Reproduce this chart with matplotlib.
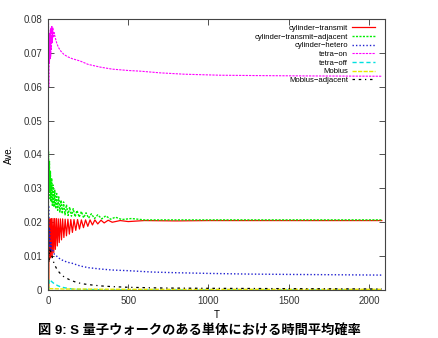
import matplotlib
matplotlib.use("Agg")
import matplotlib.pyplot as plt

plt.rcParams['font.family'] = ['Liberation Sans', 'Noto Sans CJK JP', 'DejaVu Sans']

# cylinder-transmit (red)
t_red = [5, 6, 9, 13, 17, 21, 26, 31, 36, 41, 46, 52, 58, 64, 70, 77, 84, 91, 99, 107,
         115, 124, 133, 142, 152, 162, 173, 184, 196, 208, 221, 234, 248, 262, 277, 292,
         310, 330, 350, 375, 400, 450, 500, 600, 800, 1000, 1500, 2080]
v_red = [0.0, 0.021, 0.009, 0.021, 0.0095, 0.0211, 0.010, 0.0211, 0.011, 0.0211, 0.012,
         0.0211, 0.013, 0.021, 0.014, 0.021, 0.0148, 0.021, 0.0155, 0.0209, 0.016, 0.0209,
         0.0165, 0.0208, 0.017, 0.0208, 0.0176, 0.0208, 0.018, 0.0207, 0.0184, 0.0207,
         0.0188, 0.0207, 0.0192, 0.0207, 0.0195, 0.0206, 0.0198, 0.0206, 0.020, 0.0205,
         0.0202, 0.0205, 0.0204, 0.0205, 0.0205, 0.0205]

# cylinder-transmit-adjacent (green)
t_green = [2, 3, 6, 9, 12, 15, 19, 23, 27, 32, 37, 42, 48, 54, 60, 67, 74, 81, 89, 97,
           106, 115, 125, 135, 146, 157, 169, 181, 194, 208, 222, 237, 253, 270, 290,
           310, 335, 360, 390, 420, 460, 520, 600, 800, 1000, 1500, 2080]
v_green = [0.0, 0.041, 0.029, 0.038, 0.027, 0.035, 0.026, 0.033, 0.025, 0.031, 0.0245,
           0.0295, 0.024, 0.0285, 0.0235, 0.0275, 0.023, 0.0265, 0.0225, 0.026, 0.0222,
           0.0252, 0.022, 0.0245, 0.0218, 0.024, 0.0216, 0.0235, 0.0215, 0.0232, 0.0213,
           0.0228, 0.0212, 0.0225, 0.0211, 0.0222, 0.021, 0.0219, 0.0209, 0.0215, 0.0208,
           0.0211, 0.0207, 0.0207, 0.0207, 0.0207, 0.0207]

# cylinder-hetero (blue)
t_blue = [0, 1, 2, 4, 6, 10, 14, 18, 22, 30, 40, 50, 60, 80, 100, 120, 150, 200, 250,
          325, 400, 500, 650, 800, 1000, 1250, 1500, 1800, 2080]
v_blue = [0.0, 0.03, 0.015, 0.025, 0.013, 0.018, 0.012, 0.014, 0.0115, 0.0118, 0.0105,
          0.0102, 0.0097, 0.009, 0.0086, 0.0082, 0.0079, 0.0071, 0.0066, 0.0062, 0.0059,
          0.0057, 0.0053, 0.0051, 0.0049, 0.0047, 0.0046, 0.0045, 0.0044]

# tetra-on (magenta)
t_mag = [0, 1, 2, 3, 5, 7, 9, 11, 13, 15, 17, 19, 21, 24, 27, 30, 34, 38, 45, 55, 65,
         80, 100, 125, 150, 200, 250, 325, 400, 500, 575, 700, 850, 1075, 1300, 1600, 2080]
v_mag = [0.0, 0.08, 0.001, 0.079, 0.06, 0.075, 0.067, 0.076, 0.068, 0.077, 0.069, 0.0775,
         0.071, 0.0778, 0.073, 0.0775, 0.0745, 0.076, 0.0745, 0.0728, 0.0716, 0.0705,
         0.0695, 0.0688, 0.0683, 0.0676, 0.0666, 0.0658, 0.0652, 0.0648, 0.0646, 0.0641,
         0.0637, 0.0634, 0.0633, 0.0632, 0.0631]

# tetra-off (cyan)
t_cyan = [0, 5, 8, 15, 25, 40, 60, 80, 110, 150, 200, 300, 500, 2080]
v_cyan = [0.0, 0.0, 0.0032, 0.0028, 0.0024, 0.0018, 0.0013, 0.0009, 0.0006, 0.0003,
          0.0002, 0.0001, 0.0, 0.0]

# Mobius (yellow)
t_yel = [0, 2, 4, 10, 100, 500, 2080]
v_yel = [0.0, 0.01, 0.0005, 0.0004, 0.0003, 0.0002, 0.0002]

# Mobius-adjacent (black)
t_blk = [0, 2, 5, 10, 20, 30, 40, 55, 70, 90, 110, 140, 180, 220, 270, 330, 400, 500,
         700, 1000, 1500, 2080]
v_blk = [0.0, 0.02, 0.008, 0.012, 0.011, 0.009, 0.0075, 0.0062, 0.0052, 0.0042, 0.0036,
         0.0029, 0.0022, 0.0018, 0.0015, 0.0012, 0.001, 0.0008, 0.0006, 0.0005, 0.0004,
         0.0003]

xticks = [0, 500, 1000, 1500, 2000]
xticklabels = ["0", "500", "1000", "1500", "2000"]
yticks = [0, 0.01, 0.02, 0.03, 0.04, 0.05, 0.06, 0.07, 0.08]
yticklabels = ["0", "0.01", "0.02", "0.03", "0.04", "0.05", "0.06", "0.07", "0.08"]

fig = plt.figure(figsize=(4.38, 3.38), dpi=100)
ax = fig.add_axes([0.1096, 0.142, 0.7694, 0.8018])

ax.plot(t_red, v_red, color='#ff0000', lw=0.9, label='cylinder\u2212transmit')
ax.plot(t_green, v_green, color='#00ee00', lw=1.0, ls=(0, (1.5, 1)), label='cylinder\u2212transmit\u2212adjacent')
ax.plot(t_blue, v_blue, color='#2020d0', lw=1.0, ls=(0, (1, 1.5)), label='cylinder\u2212hetero')
ax.plot(t_mag, v_mag, color='#ff00ff', lw=0.8, ls=(0, (2, 1)), label='tetra\u2212on')
ax.plot(t_cyan, v_cyan, color='#00e0e0', lw=1.0, ls=(0, (3, 2)), label='tetra\u2212off')
ax.plot(t_yel, v_yel, color='#e8e800', lw=1.0, ls=(0, (3, 1)), label='Mobius')
ax.plot(t_blk, v_blk, color='#000000', lw=0.9, ls=(0, (2, 3, 2, 3, 1, 3)), label='Mobius\u2212adjacent')

ax.set_xlim(0, 2100)
ax.set_ylim(0, 0.08)
ax.set_xticks(xticks)
ax.set_xticklabels(xticklabels)
ax.set_yticks(yticks)
ax.set_yticklabels(yticklabels)
ax.tick_params(direction='in', top=True, right=True, length=4, width=0.6,
               labelsize=7, pad=4, colors='#333333')
for s in ax.spines.values():
    s.set_linewidth(0.8)
    s.set_color('#444444')

ax.set_xlabel('T', fontsize=7, labelpad=3)
ax.set_ylabel('Ave.', fontsize=7, labelpad=7)

leg = ax.legend(loc='upper right', frameon=False, markerfirst=False, fontsize=5.6,
                handlelength=2.9, handletextpad=0.5, labelspacing=0.16,
                borderaxespad=0.3, bbox_to_anchor=(0.985, 1.0))
for vp in leg._legend_handle_box.get_children():
    vp.align = 'right'

fig.text(0.455, 0.004, '図 9: S 量子ウォークのある単体における時間平均確率',
         ha='center', va='bottom', fontsize=9.5, fontweight='bold')

fig.savefig('out.png', dpi=100)
